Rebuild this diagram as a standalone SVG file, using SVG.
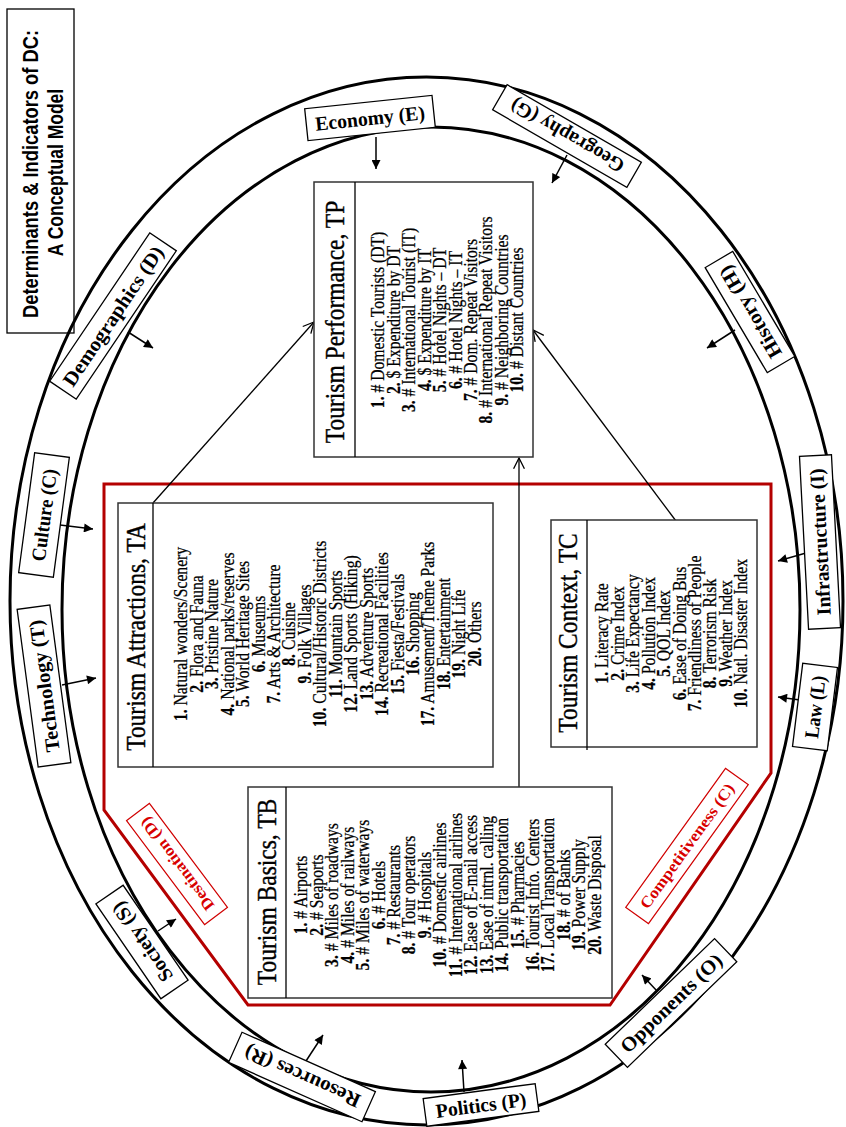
<svg xmlns="http://www.w3.org/2000/svg" width="846" height="1127" viewBox="0 0 846 1127">
<style>
.ell{fill:none;stroke:#000;stroke-width:3}
.nrect{fill:#fff;stroke:#333;stroke-width:1.5}
.div{stroke:#000;stroke-width:1.3}
.title{font-family:"Liberation Serif","Times New Roman",serif;font-size:27px;text-anchor:middle;fill:#000;stroke:#000;stroke-width:0.4}
.item{font-family:"Liberation Serif","Times New Roman",serif;font-size:18px;text-anchor:middle;fill:#000;stroke:#000;stroke-width:0.25}
.item tspan{font-weight:bold}
.rbox{fill:#fff;stroke:#000;stroke-width:1.3}
.rtxt{font-family:"Liberation Serif","Times New Roman",serif;font-size:20px;font-weight:bold;text-anchor:middle;fill:#000}
.redbox{fill:#fff;stroke:#d00000;stroke-width:1.2}
.redtxt{font-family:"Liberation Serif","Times New Roman",serif;font-size:16px;font-weight:bold;text-anchor:middle;fill:#d80000}
.ra{stroke:#000;stroke-width:1.5;fill:none}
.conn{stroke:#000;stroke-width:1.3;fill:none}
.ttl{font-family:"Liberation Sans",Arial,sans-serif;font-size:22px;font-weight:bold;text-anchor:middle;fill:#000}
</style>
<defs>
<marker id="fa" viewBox="0 0 10 10" refX="10" refY="5" markerWidth="10" markerHeight="9" markerUnits="userSpaceOnUse" orient="auto"><path d="M0,0 L10,5 L0,10 z" fill="#000"/></marker>
<marker id="oa" viewBox="0 0 12 12" refX="11" refY="6" markerWidth="13" markerHeight="13" markerUnits="userSpaceOnUse" orient="auto"><path d="M1,1 L11,6 L1,11" fill="none" stroke="#000" stroke-width="1.2"/></marker>
</defs>
<rect width="846" height="1127" fill="#fff"/>

<g id="title">
<g transform="translate(7,333) rotate(-90)">
<rect x="0" y="0" width="324" height="67" fill="#fff" stroke="#000" stroke-width="1.3"/>
<g transform="scale(0.833,1)"><text class="ttl" x="190.9" y="31">Determinants &amp; Indicators of DC:</text></g>
<g transform="scale(0.795,1)"><text class="ttl" x="201.9" y="56">A Conceptual Model</text></g>
</g>
</g>

<g id="ellipses">
<ellipse class="ell" cx="426.5" cy="601" rx="416.5" ry="524"/>
<ellipse class="ell" cx="431" cy="609.5" rx="369" ry="482.5"/>
</g>

<g id="region">
<polygon points="104,484 771,484 771,773 610,1005 248,1005 104,810" fill="none" stroke="#b40000" stroke-width="3"/>
</g>

<g id="connectors">
<line class="conn" x1="153" y1="503" x2="314" y2="322" marker-end="url(#oa)"/>
<line class="conn" x1="676" y1="521" x2="533" y2="330" marker-end="url(#oa)"/>
<line class="conn" x1="519" y1="787" x2="519" y2="458" marker-end="url(#oa)"/>
<line class="ra" x1="376" y1="137" x2="376" y2="169" marker-end="url(#fa)"/>
<line class="ra" x1="567" y1="155" x2="552" y2="183" marker-end="url(#fa)"/>
<line class="ra" x1="735" y1="330" x2="707" y2="348" marker-end="url(#fa)"/>
<line class="ra" x1="128" y1="332" x2="153" y2="348" marker-end="url(#fa)"/>
<line class="ra" x1="60" y1="525" x2="93" y2="529" marker-end="url(#fa)"/>
<line class="ra" x1="62" y1="685" x2="96" y2="678" marker-end="url(#fa)"/>
<line class="ra" x1="806" y1="553" x2="778" y2="561" marker-end="url(#fa)"/>
<line class="ra" x1="800" y1="700" x2="778" y2="697" marker-end="url(#fa)"/>
<line class="ra" x1="158" y1="931" x2="176" y2="919" marker-end="url(#fa)"/>
<line class="ra" x1="306" y1="1061" x2="323" y2="1035" marker-end="url(#fa)"/>
<line class="ra" x1="464" y1="1092" x2="462" y2="1060" marker-end="url(#fa)"/>
<line class="ra" x1="657" y1="991" x2="642" y2="975" marker-end="url(#fa)"/>
</g>

<g id="tp" transform="translate(314,457) rotate(-90)">
<rect class="nrect" x="0" y="0" width="275" height="219"/>
<line class="div" x1="0" y1="41" x2="275" y2="41"/>
<g transform="scale(0.87,1)">
<text class="title" x="155.2" y="30">Tourism Performance, TP</text>
<text class="item" x="157.5" y="70.3"><tspan>1.</tspan> # Domestic Tourists (DT)</text>
<text class="item" x="157.5" y="85.8"><tspan>2.</tspan> $ Expenditure by DT</text>
<text class="item" x="157.5" y="101.2"><tspan>3.</tspan> # International Tourist (IT)</text>
<text class="item" x="157.5" y="116.7"><tspan>4.</tspan> $ Expenditure by IT</text>
<text class="item" x="157.5" y="132.1"><tspan>5.</tspan> # Hotel Nights – DT</text>
<text class="item" x="157.5" y="147.6"><tspan>6.</tspan> # Hotel Nights – IT</text>
<text class="item" x="157.5" y="163.0"><tspan>7.</tspan> # Dom. Repeat Visitors</text>
<text class="item" x="157.5" y="178.5"><tspan>8.</tspan> # International Repeat Visitors</text>
<text class="item" x="157.5" y="193.9"><tspan>9.</tspan> # Neighboring Countries</text>
<text class="item" x="157.5" y="209.4"><tspan>10.</tspan> # Distant Countries</text>
</g>
</g>

<g id="ta" transform="translate(118,767) rotate(-90)">
<rect class="nrect" x="0" y="0" width="264" height="375"/>
<line class="div" x1="0" y1="35" x2="264" y2="35"/>
<g transform="scale(0.87,1)">
<text class="title" x="149.4" y="27.5">Tourism Attractions, TA</text>
<text class="item" x="152.9" y="69.3"><tspan>1.</tspan> Natural wonders/Scenery</text>
<text class="item" x="152.9" y="84.8"><tspan>2.</tspan> Flora and Fauna</text>
<text class="item" x="152.9" y="100.2"><tspan>3.</tspan> Pristine Nature</text>
<text class="item" x="152.9" y="115.7"><tspan>4.</tspan> National parks/reserves</text>
<text class="item" x="152.9" y="131.1"><tspan>5.</tspan> World Heritage Sites</text>
<text class="item" x="152.9" y="146.6"><tspan>6.</tspan> Museums</text>
<text class="item" x="152.9" y="162.0"><tspan>7.</tspan> Arts &amp; Architecture</text>
<text class="item" x="152.9" y="177.5"><tspan>8.</tspan> Cuisine</text>
<text class="item" x="152.9" y="192.9"><tspan>9.</tspan> Folk Villages</text>
<text class="item" x="152.9" y="208.4"><tspan>10.</tspan> Cultural/Historic Districts</text>
<text class="item" x="152.9" y="223.8"><tspan>11.</tspan> Mountain Sports</text>
<text class="item" x="152.9" y="239.3"><tspan>12.</tspan> Land Sports (Hiking)</text>
<text class="item" x="152.9" y="254.7"><tspan>13.</tspan> Adventure Sports</text>
<text class="item" x="152.9" y="270.2"><tspan>14.</tspan> Recreational Facilities</text>
<text class="item" x="152.9" y="285.6"><tspan>15.</tspan> Fiesta/Festivals</text>
<text class="item" x="152.9" y="301.1"><tspan>16.</tspan> Shopping</text>
<text class="item" x="152.9" y="316.5"><tspan>17.</tspan> Amusement/Theme Parks</text>
<text class="item" x="152.9" y="332.0"><tspan>18.</tspan> Entertainment</text>
<text class="item" x="152.9" y="347.4"><tspan>19.</tspan> Night Life</text>
<text class="item" x="152.9" y="362.9"><tspan>20.</tspan> Others</text>
</g>
</g>

<g id="tc" transform="translate(551,747) rotate(-90)">
<rect class="nrect" x="0" y="0" width="227" height="206"/>
<line class="div" x1="-3" y1="36" x2="227" y2="36"/>
<g transform="scale(0.87,1)">
<text class="title" x="131" y="26.5">Tourism Context, TC</text>
<text class="item" x="130.5" y="57.3"><tspan>1.</tspan> Literacy Rate</text>
<text class="item" x="130.5" y="72.8"><tspan>2.</tspan> Crime Index</text>
<text class="item" x="130.5" y="88.2"><tspan>3.</tspan> Life Expectancy</text>
<text class="item" x="130.5" y="103.7"><tspan>4.</tspan> Pollution Index</text>
<text class="item" x="130.5" y="119.1"><tspan>5.</tspan> QOL Index</text>
<text class="item" x="130.5" y="134.6"><tspan>6.</tspan> Ease of Doing Bus</text>
<text class="item" x="130.5" y="150.0"><tspan>7.</tspan> Friendliness of People</text>
<text class="item" x="130.5" y="165.5"><tspan>8.</tspan> Terrorism Risk</text>
<text class="item" x="130.5" y="180.9"><tspan>9.</tspan> Weather Index</text>
<text class="item" x="130.5" y="196.4"><tspan>10.</tspan> Natl. Disaster Index</text>
</g>
</g>

<g id="tb" transform="translate(248,998) rotate(-90)">
<rect class="nrect" x="0" y="0" width="211" height="364"/>
<line class="div" x1="0" y1="38" x2="211" y2="38"/>
<g transform="scale(0.87,1)">
<text class="title" x="121.8" y="28.5">Tourism Basics, TB</text>
<text class="item" x="118.4" y="59.3"><tspan>1.</tspan> # Airports</text>
<text class="item" x="118.4" y="74.8"><tspan>2.</tspan> # Seaports</text>
<text class="item" x="118.4" y="90.2"><tspan>3.</tspan> # Miles of roadways</text>
<text class="item" x="118.4" y="105.7"><tspan>4.</tspan> # Miles of railways</text>
<text class="item" x="118.4" y="121.1"><tspan>5.</tspan> # Miles of waterways</text>
<text class="item" x="118.4" y="136.6"><tspan>6.</tspan> # Hotels</text>
<text class="item" x="118.4" y="152.0"><tspan>7.</tspan> # Restaurants</text>
<text class="item" x="118.4" y="167.5"><tspan>8.</tspan> # Tour operators</text>
<text class="item" x="118.4" y="182.9"><tspan>9.</tspan> # Hospitals</text>
<text class="item" x="118.4" y="198.4"><tspan>10.</tspan> # Domestic airlines</text>
<text class="item" x="118.4" y="213.8"><tspan>11.</tspan> # International airlines</text>
<text class="item" x="118.4" y="229.3"><tspan>12.</tspan> Ease of E-mail access</text>
<text class="item" x="118.4" y="244.7"><tspan>13.</tspan> Ease of intrnl. calling</text>
<text class="item" x="118.4" y="260.2"><tspan>14.</tspan> Public transportation</text>
<text class="item" x="118.4" y="275.6"><tspan>15.</tspan> # Pharmacies</text>
<text class="item" x="118.4" y="291.1"><tspan>16.</tspan> Tourist Info. Centers</text>
<text class="item" x="118.4" y="306.5"><tspan>17.</tspan> Local Transportation</text>
<text class="item" x="118.4" y="322.0"><tspan>18.</tspan> # of Banks</text>
<text class="item" x="118.4" y="337.4"><tspan>19.</tspan> Power Supply</text>
<text class="item" x="118.4" y="352.9"><tspan>20.</tspan> Waste Disposal</text>
</g>
</g>

<g id="destination" transform="translate(177,864) rotate(-126.9)">
<rect class="redbox" x="-65" y="-14.3" width="130" height="28.6"/>
<text class="redtxt" x="0" y="5.5" textLength="112" lengthAdjust="spacingAndGlyphs">Destination (D)</text>
</g>
<g id="competitiveness" transform="translate(687,846) rotate(-54.3)">
<rect class="redbox" x="-85.5" y="-14" width="171" height="28"/>
<text class="redtxt" x="0" y="5.5" textLength="150" lengthAdjust="spacingAndGlyphs">Competitiveness (C)</text>
</g>

<g id="economy" transform="translate(370,118) rotate(-6)">
<rect class="rbox" x="-64" y="-16" width="128" height="32"/>
<text class="rtxt" x="0" y="7" textLength="110" lengthAdjust="spacingAndGlyphs">Economy (E)</text>
</g>
<g id="geography" transform="translate(567,136) rotate(210)">
<rect class="rbox" x="-77.5" y="-14.5" width="155" height="29"/>
<text class="rtxt" x="0" y="7" textLength="128" lengthAdjust="spacingAndGlyphs">Geography (G)</text>
</g>
<g id="history" transform="translate(750,312) rotate(-120.6)">
<rect class="rbox" x="-61" y="-16" width="122" height="32"/>
<text class="rtxt" x="0" y="7" textLength="104" lengthAdjust="spacingAndGlyphs">History (H)</text>
</g>
<g id="infrastructure" transform="translate(820,542) rotate(-93)">
<rect class="rbox" x="-86.5" y="-16" width="173" height="32"/>
<text class="rtxt" x="0" y="7" textLength="147" lengthAdjust="spacingAndGlyphs">Infrastructure (I)</text>
</g>
<g id="law" transform="translate(815,707) rotate(-83)">
<rect class="rbox" x="-42" y="-17.5" width="84" height="35"/>
<text class="rtxt" x="0" y="7" textLength="63" lengthAdjust="spacingAndGlyphs">Law (L)</text>
</g>
<g id="opponents" transform="translate(671,1003) rotate(-44)">
<rect class="rbox" x="-76" y="-16" width="152" height="32"/>
<text class="rtxt" x="0" y="7" textLength="133" lengthAdjust="spacingAndGlyphs">Opponents (O)</text>
</g>
<g id="politics" transform="translate(481,1105) rotate(-7.6)">
<rect class="rbox" x="-56.5" y="-14" width="113" height="28"/>
<text class="rtxt" x="0" y="7" textLength="91" lengthAdjust="spacingAndGlyphs">Politics (P)</text>
</g>
<g id="resources" transform="translate(302,1077) rotate(204)">
<rect class="rbox" x="-73" y="-16.5" width="146" height="33"/>
<text class="rtxt" x="0" y="7" textLength="125" lengthAdjust="spacingAndGlyphs">Resources (R)</text>
</g>
<g id="society" transform="translate(142,942) rotate(-124.4)">
<rect class="rbox" x="-57.5" y="-16.5" width="115" height="33"/>
<text class="rtxt" x="0" y="7" textLength="92" lengthAdjust="spacingAndGlyphs">Society (S)</text>
</g>
<g id="technology" transform="translate(44,686) rotate(-97.6)">
<rect class="rbox" x="-79.5" y="-16.5" width="159" height="33"/>
<text class="rtxt" x="0" y="7" textLength="133" lengthAdjust="spacingAndGlyphs">Technology (T)</text>
</g>
<g id="culture" transform="translate(44,515) rotate(-82.4)">
<rect class="rbox" x="-60.5" y="-17.5" width="121" height="35"/>
<text class="rtxt" x="0" y="7" textLength="93" lengthAdjust="spacingAndGlyphs">Culture (C)</text>
</g>
<g id="demographics" transform="translate(113,316) rotate(-56)">
<rect class="rbox" x="-89.5" y="-16" width="179" height="32"/>
<text class="rtxt" x="0" y="7" textLength="164" lengthAdjust="spacingAndGlyphs">Demographics (D)</text>
</g>
</svg>
